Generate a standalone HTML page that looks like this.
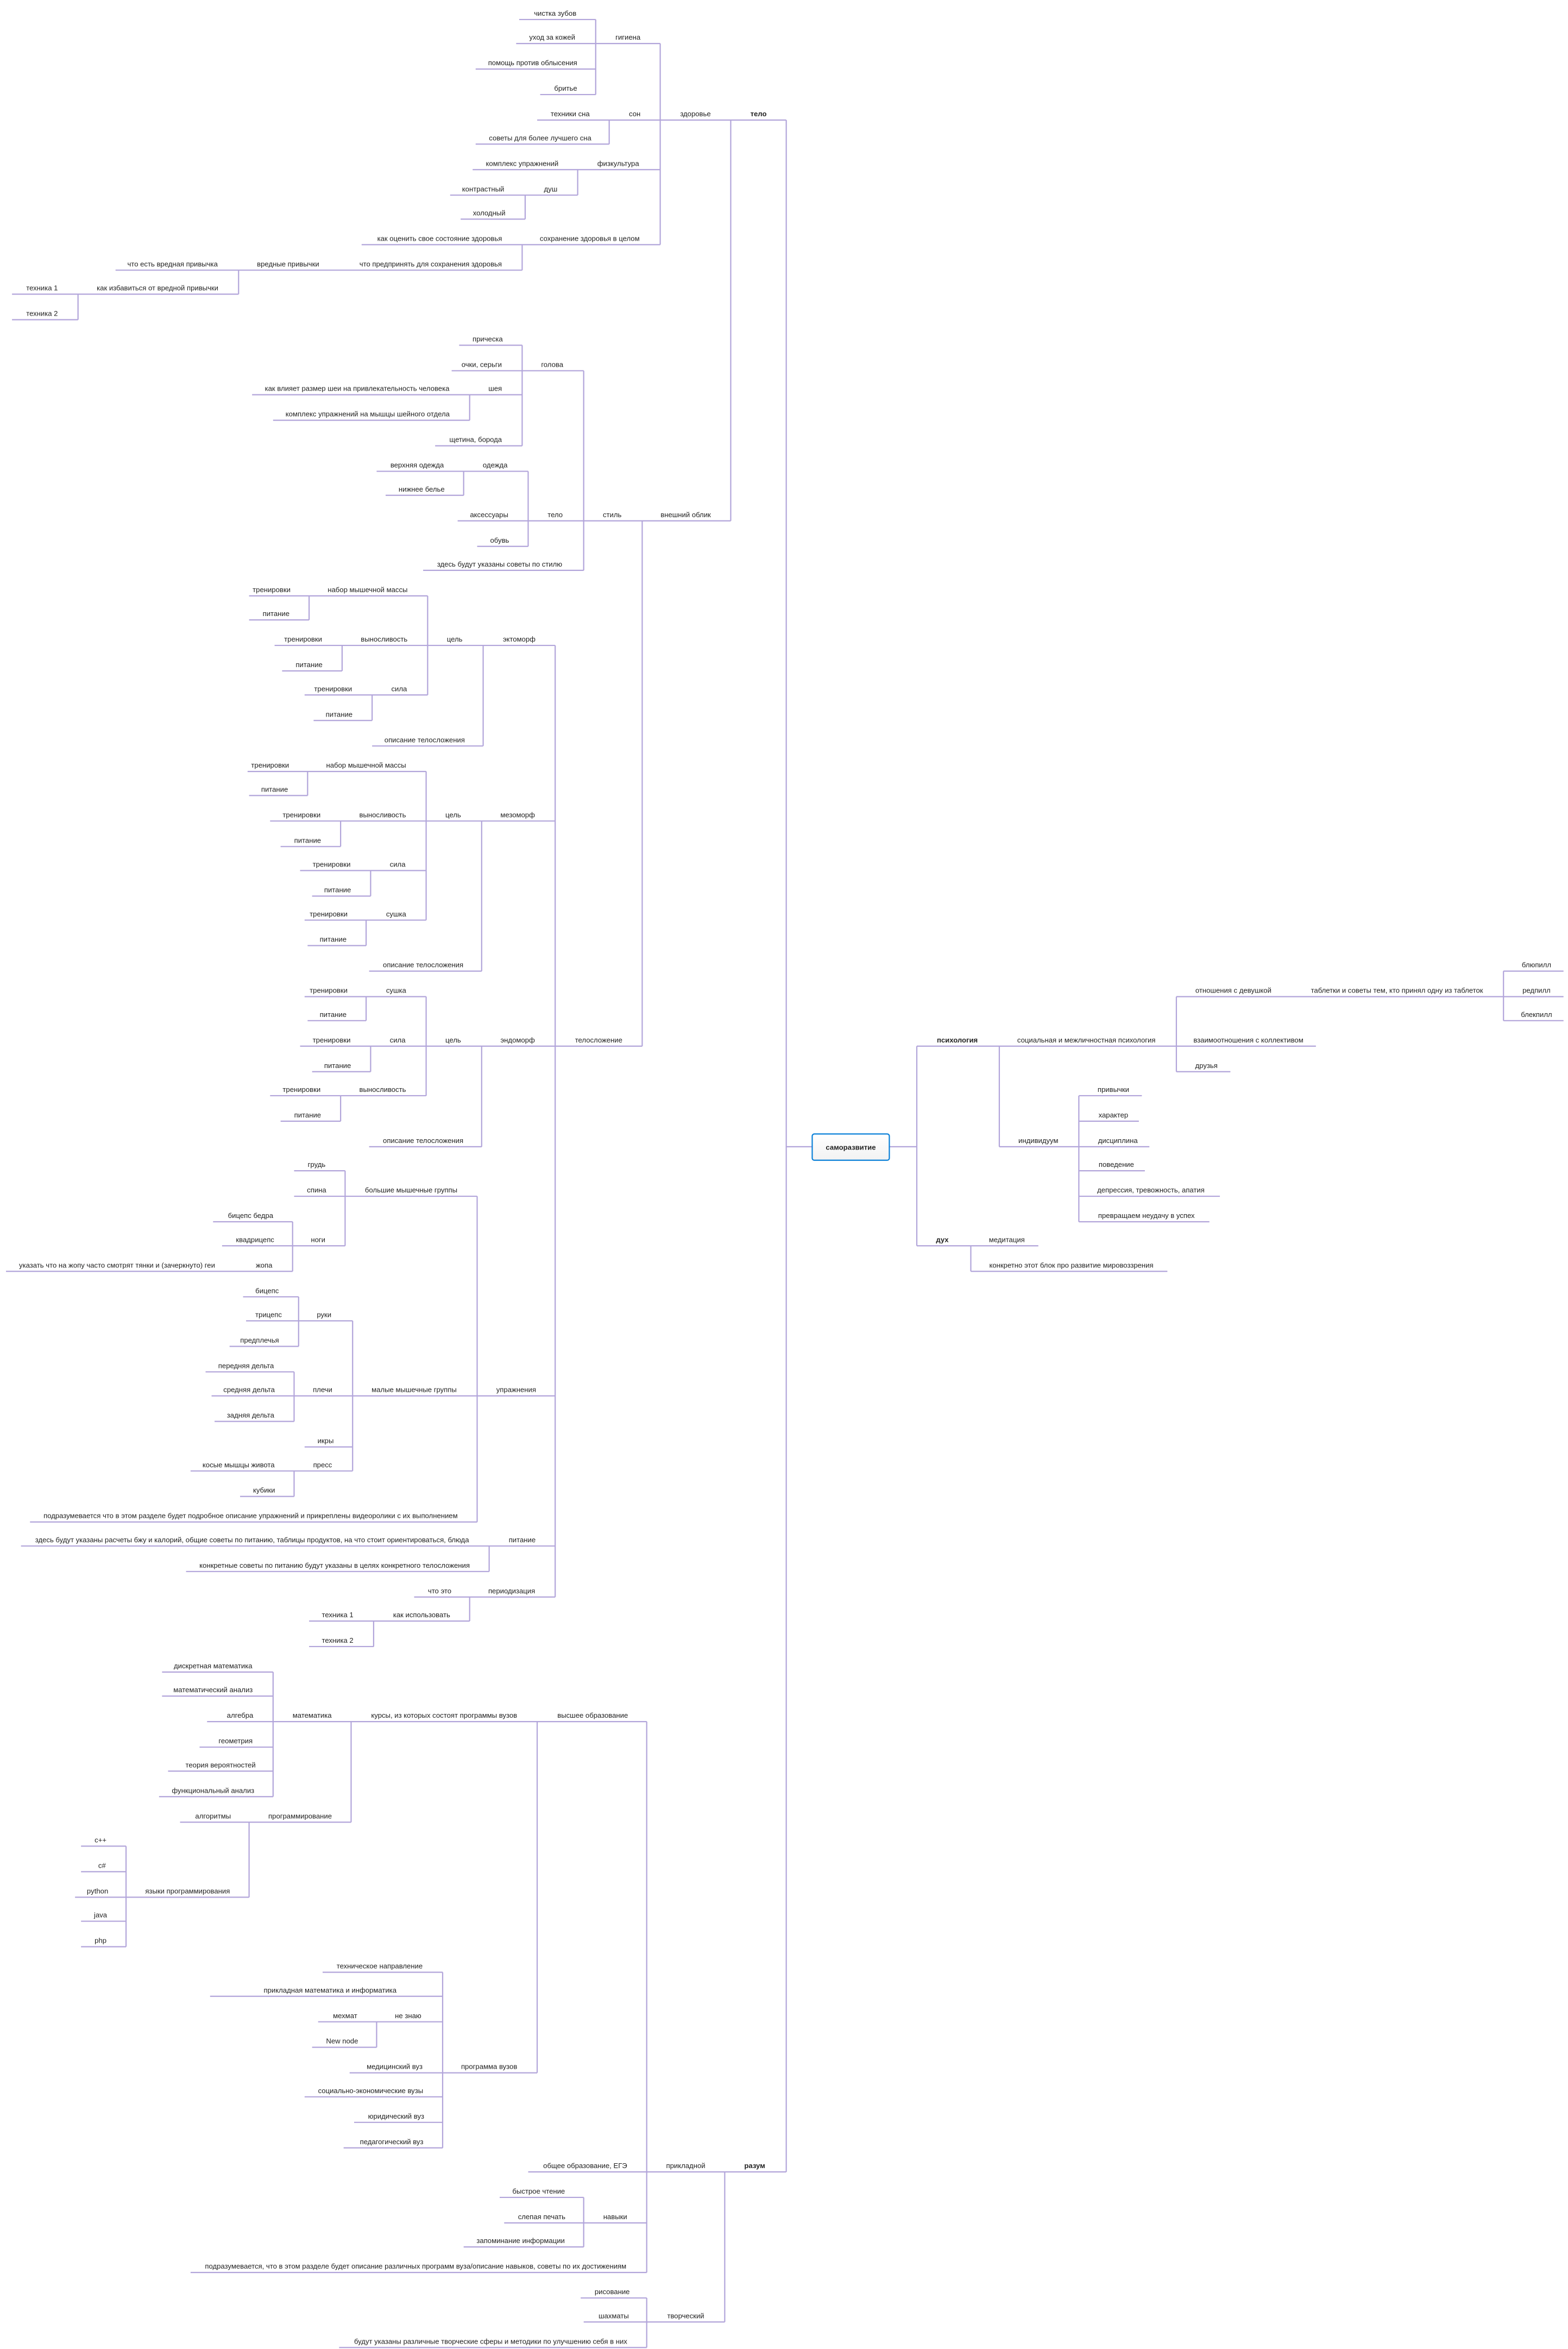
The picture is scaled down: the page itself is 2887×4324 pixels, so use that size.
<!DOCTYPE html>
<html><head><meta charset="utf-8"><style>
html,body{margin:0;padding:0;background:#fff;}
svg{display:block;}
text{font-family:"Liberation Sans","DejaVu Sans",sans-serif;font-size:4.75px;fill:#222;text-anchor:middle;}
.b{font-weight:bold;}
</style></head><body>
<svg width="2887" height="4324" viewBox="0 0 1045 1565" preserveAspectRatio="none" xmlns="http://www.w3.org/2000/svg">
<path fill="none" stroke="#b2a5da" stroke-width="0.8" stroke-linejoin="round" d="
M524 80V1447 M524 764H541 M593 764H611 M611 697V830
M487 80H524 M487 80V347
M440 80H487 M440 29V163
M397 29H440 M397 13V63 M346 13H397 M344 29H397 M317 46H397 M360 63H397
M406 80H440 M406 80V96 M358 80H406 M317 96H406
M385 113H440 M385 113V130 M315 113H385 M350 130H385 M350 130V146 M300 130H350 M307 146H350
M348 163H440 M348 163V180 M241 163H348 M231 180H348
M159 180H231 M159 180V196 M77 180H159 M52 196H159 M52 196V213 M8 196H52 M8 213H52
M428 347H487 M428 347V697
M389 347H428 M389 247V380
M348 247H389 M348 230V297 M306 230H348 M301 247H348 M313 263H348 M313 263V280 M168 263H313 M182 280H313 M290 297H348
M352 347H389 M352 314V364 M309 314H352 M309 314V330 M251 314H309 M257 330H309 M305 347H352 M318 364H352
M282 380H389
M370 697H428 M370 430V1064
M322 430H370 M322 430V497 M285 430H322 M285 397V463
M206 397H285 M206 397V413 M166 397H206 M166 413H206
M228 430H285 M228 430V447 M183 430H228 M188 447H228
M248 463H285 M248 463V480 M203 463H248 M209 480H248
M248 497H322
M321 547H370 M321 547V647 M284 547H321 M284 514V613
M205 514H284 M205 514V530 M165 514H205 M166 530H205
M227 547H284 M227 547V564 M180 547H227 M187 564H227
M247 580H284 M247 580V597 M200 580H247 M208 597H247
M244 613H284 M244 613V630 M203 613H244 M205 630H244
M246 647H321
M321 697H370 M321 697V764 M284 697H321 M284 664V730
M244 664H284 M244 664V680 M203 664H244 M205 680H244
M247 697H284 M247 697V714 M200 697H247 M208 714H247
M227 730H284 M227 730V747 M180 730H227 M187 747H227
M246 764H321
M318 930H370 M318 797V1014
M230 797H318 M230 780V830 M196 780H230 M196 797H230 M195 830H230 M195 814V847 M142 814H195 M148 830H195 M158 847H195 M4 847H158
M235 930H318 M235 880V980
M199 880H235 M199 864V897 M162 864H199 M164 880H199 M153 897H199
M196 930H235 M196 914V947 M137 914H196 M141 930H196 M143 947H196
M203 964H235
M196 980H235 M196 980V997 M127 980H196 M160 997H196
M20 1014H318
M326 1030H370 M326 1030V1047 M14 1030H326 M124 1047H326
M313 1064H370 M313 1064V1080 M276 1064H313 M249 1080H313 M249 1080V1097 M206 1080H249 M206 1097H249
M483 1447H524 M483 1447V1547
M431 1447H483 M431 1147V1514
M358 1147H431 M358 1147V1381
M234 1147H358 M234 1147V1214
M182 1147H234 M182 1114V1197 M108 1114H182 M108 1130H182 M138 1147H182 M133 1164H182 M112 1180H182 M106 1197H182
M166 1214H234 M166 1214V1264 M120 1214H166 M84 1264H166 M84 1230V1297 M54 1230H84 M54 1247H84 M50 1264H84 M54 1280H84 M54 1297H84
M295 1381H358 M295 1314V1431 M215 1314H295 M140 1330H295 M251 1347H295 M251 1347V1364 M212 1347H251 M208 1364H251 M233 1381H295 M203 1397H295 M236 1414H295 M229 1431H295
M352 1447H431
M389 1481H431 M389 1464V1497 M333 1464H389 M336 1481H389 M309 1497H389
M127 1514H431
M431 1547H483 M431 1531V1564 M387 1531H431 M389 1547H431 M226 1564H431
M611 697H666 M666 697V764
M666 697H784 M784 664V714
M784 664H866 M866 664H1002 M1002 647V680 M1002 647H1042 M1002 664H1042 M1002 680H1042
M784 697H877 M784 714H820
M666 764H719 M719 730V814
M719 730H761 M719 747H759 M719 764H766 M719 780H763 M719 797H813 M719 814H806
M611 830H647 M647 830V847 M647 830H692 M647 847H778
"/>
<defs><linearGradient id="g" x1="0" y1="0" x2="0" y2="1"><stop offset="0" stop-color="#fff"/><stop offset="1" stop-color="#f2f2f2"/></linearGradient></defs>
<rect x="541.3" y="755.5" width="51.4" height="17.5" rx="1.4" fill="url(#g)" stroke="#0a80d8" stroke-width="0.8"/>
<text class="b" x="567" y="766">саморазвитие</text>

<text class="b" x="505.5" y="77.5">тело</text>
<text x="463.5" y="77.5">здоровье</text>
<text x="418.5" y="26.5">гигиена</text>
<text x="370" y="10.5">чистка зубов</text>
<text x="368" y="26.5">уход за кожей</text>
<text x="355" y="43.5">помощь против облысения</text>
<text x="377" y="60.5">бритье</text>
<text x="423" y="77.5">сон</text>
<text x="380" y="77.5">техники сна</text>
<text x="360" y="93.5">советы для более лучшего сна</text>
<text x="412" y="110.5">физкультура</text>
<text x="348" y="110.5">комплекс упражнений</text>
<text x="367" y="127.5">душ</text>
<text x="322" y="127.5">контрастный</text>
<text x="326" y="143.5">холодный</text>
<text x="393" y="160.5">сохранение здоровья в целом</text>
<text x="293" y="160.5">как оценить свое состояние здоровья</text>
<text x="287" y="177.5">что предпринять для сохранения здоровья</text>
<text x="192" y="177.5">вредные привычки</text>
<text x="115" y="177.5">что есть вредная привычка</text>
<text x="105" y="193.5">как избавиться от вредной привычки</text>
<text x="28" y="193.5">техника 1</text>
<text x="28" y="210.5">техника 2</text>

<text x="457" y="344.5">внешний облик</text>
<text x="408" y="344.5">стиль</text>
<text x="368" y="244.5">голова</text>
<text x="325" y="227.5">прическа</text>
<text x="321" y="244.5">очки, серьги</text>
<text x="330" y="260.5">шея</text>
<text x="238" y="260.5">как влияет размер шеи на привлекательность человека</text>
<text x="245" y="277.5">комплекс упражнений на мышцы шейного отдела</text>
<text x="317" y="294.5">щетина, борода</text>
<text x="370" y="344.5">тело</text>
<text x="330" y="311.5">одежда</text>
<text x="278" y="311.5">верхняя одежда</text>
<text x="281" y="327.5">нижнее белье</text>
<text x="326" y="344.5">аксессуары</text>
<text x="333" y="361.5">обувь</text>
<text x="333" y="377.5">здесь будут указаны советы по стилю</text>

<text x="399" y="694.5">телосложение</text>
<text x="346" y="427.5">эктоморф</text>
<text x="303" y="427.5">цель</text>
<text x="245" y="394.5">набор мышечной массы</text>
<text x="181" y="394.5">тренировки</text>
<text x="184" y="410.5">питание</text>
<text x="256" y="427.5">выносливость</text>
<text x="202" y="427.5">тренировки</text>
<text x="206" y="444.5">питание</text>
<text x="266" y="460.5">сила</text>
<text x="222" y="460.5">тренировки</text>
<text x="226" y="477.5">питание</text>
<text x="283" y="494.5">описание телосложения</text>

<text x="345" y="544.5">мезоморф</text>
<text x="302" y="544.5">цель</text>
<text x="244" y="511.5">набор мышечной массы</text>
<text x="180" y="511.5">тренировки</text>
<text x="183" y="527.5">питание</text>
<text x="255" y="544.5">выносливость</text>
<text x="201" y="544.5">тренировки</text>
<text x="205" y="561.5">питание</text>
<text x="265" y="577.5">сила</text>
<text x="221" y="577.5">тренировки</text>
<text x="225" y="594.5">питание</text>
<text x="264" y="610.5">сушка</text>
<text x="219" y="610.5">тренировки</text>
<text x="222" y="627.5">питание</text>
<text x="282" y="644.5">описание телосложения</text>

<text x="345" y="694.5">эндоморф</text>
<text x="302" y="694.5">цель</text>
<text x="264" y="661.5">сушка</text>
<text x="219" y="661.5">тренировки</text>
<text x="222" y="677.5">питание</text>
<text x="265" y="694.5">сила</text>
<text x="221" y="694.5">тренировки</text>
<text x="225" y="711.5">питание</text>
<text x="255" y="727.5">выносливость</text>
<text x="201" y="727.5">тренировки</text>
<text x="205" y="744.5">питание</text>
<text x="282" y="761.5">описание телосложения</text>

<text x="344" y="927.5">упражнения</text>
<text x="274" y="794.5">большие мышечные группы</text>
<text x="211" y="777.5">грудь</text>
<text x="211" y="794.5">спина</text>
<text x="212" y="827.5">ноги</text>
<text x="167" y="811.5">бицепс бедра</text>
<text x="170" y="827.5">квадрицепс</text>
<text x="176" y="844.5">жопа</text>
<text x="78" y="844.5">указать что на жопу часто смотрят тянки и (зачеркнуто) геи</text>
<text x="276" y="927.5">малые мышечные группы</text>
<text x="216" y="877.5">руки</text>
<text x="178" y="861.5">бицепс</text>
<text x="179" y="877.5">трицепс</text>
<text x="173" y="894.5">предплечья</text>
<text x="215" y="927.5">плечи</text>
<text x="164" y="911.5">передняя дельта</text>
<text x="166" y="927.5">средняя дельта</text>
<text x="167" y="944.5">задняя дельта</text>
<text x="217" y="961.5">икры</text>
<text x="215" y="977.5">пресс</text>
<text x="159" y="977.5">косые мышцы живота</text>
<text x="176" y="994.5">кубики</text>
<text x="167" y="1011.5">подразумевается что в этом разделе будет подробное описание упражнений и прикреплены видеоролики с их выполнением</text>
<text x="348" y="1027.5">питание</text>
<text x="168" y="1027.5">здесь будут указаны расчеты бжу и калорий, общие советы по питанию, таблицы продуктов, на что стоит ориентироваться, блюда</text>
<text x="223" y="1044.5">конкретные советы по питанию будут указаны в целях конкретного телосложения</text>
<text x="341" y="1061.5">периодизация</text>
<text x="293" y="1061.5">что это</text>
<text x="281" y="1077.5">как использовать</text>
<text x="225" y="1077.5">техника 1</text>
<text x="225" y="1094.5">техника 2</text>

<text class="b" x="503" y="1444.5">разум</text>
<text x="457" y="1444.5">прикладной</text>
<text x="395" y="1144.5">высшее образование</text>
<text x="296" y="1144.5">курсы, из которых состоят программы вузов</text>
<text x="208" y="1144.5">математика</text>
<text x="142" y="1111.5">дискретная математика</text>
<text x="142" y="1127.5">математический анализ</text>
<text x="160" y="1144.5">алгебра</text>
<text x="157" y="1161.5">геометрия</text>
<text x="147" y="1177.5">теория вероятностей</text>
<text x="142" y="1194.5">функциональный анализ</text>
<text x="200" y="1211.5">программирование</text>
<text x="142" y="1211.5">алгоритмы</text>
<text x="125" y="1261.5">языки программирования</text>
<text x="67" y="1227.5">c++</text>
<text x="68" y="1244.5">c#</text>
<text x="65" y="1261.5">python</text>
<text x="67" y="1277.5">java</text>
<text x="67" y="1294.5">php</text>
<text x="326" y="1378.5">программа вузов</text>
<text x="253" y="1311.5">техническое направление</text>
<text x="220" y="1327.5">прикладная математика и информатика</text>
<text x="272" y="1344.5">не знаю</text>
<text x="230" y="1344.5">мехмат</text>
<text x="228" y="1361.5">New node</text>
<text x="263" y="1378.5">медицинский вуз</text>
<text x="247" y="1394.5">социально-экономические вузы</text>
<text x="264" y="1411.5">юридический вуз</text>
<text x="261" y="1428.5">педагогический вуз</text>
<text x="390" y="1444.5">общее образование, ЕГЭ</text>
<text x="410" y="1478.5">навыки</text>
<text x="359" y="1461.5">быстрое чтение</text>
<text x="361" y="1478.5">слепая печать</text>
<text x="347" y="1494.5">запоминание информации</text>
<text x="277" y="1511.5">подразумевается, что в этом разделе будет описание различных программ вуза/описание навыков, советы по их достижениям</text>
<text x="457" y="1544.5">творческий</text>
<text x="408" y="1528.5">рисование</text>
<text x="409" y="1544.5">шахматы</text>
<text x="327" y="1561.5">будут указаны различные творческие сферы и методики по улучшению себя в них</text>

<text class="b" x="638" y="694.5">психология</text>
<text x="724" y="694.5">социальная и межличностная психология</text>
<text x="822" y="661.5">отношения с девушкой</text>
<text x="931" y="661.5">таблетки и советы тем, кто принял одну из таблеток</text>
<text x="1024" y="644.5">блюпилл</text>
<text x="1024" y="661.5">редпилл</text>
<text x="1024" y="677.5">блекпилл</text>
<text x="832" y="694.5">взаимоотношения с коллективом</text>
<text x="804" y="711.5">друзья</text>
<text x="692" y="761.5">индивидуум</text>
<text x="742" y="727.5">привычки</text>
<text x="742" y="744.5">характер</text>
<text x="745" y="761.5">дисциплина</text>
<text x="744" y="777.5">поведение</text>
<text x="767" y="794.5">депрессия, тревожность, апатия</text>
<text x="764" y="811.5">превращаем неудачу в успех</text>
<text class="b" x="628" y="827.5">дух</text>
<text x="671" y="827.5">медитация</text>
<text x="714" y="844.5">конкретно этот блок про развитие мировоззрения</text>
</svg>
</body></html>
